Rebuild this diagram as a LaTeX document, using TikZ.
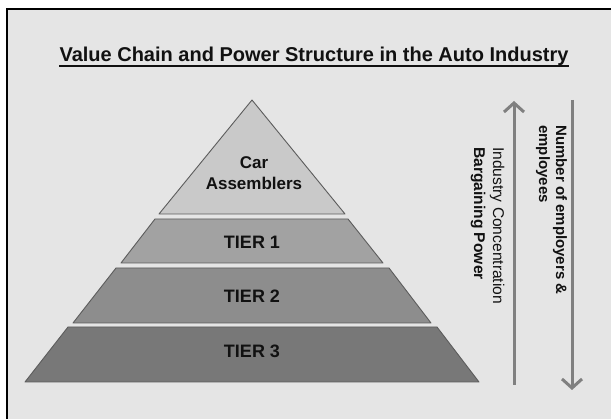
\documentclass[tikz,border=0pt]{standalone}
\usepackage{fontspec}
\setmainfont{Liberation Sans}
\usepackage{tikz}
\usetikzlibrary{arrows.meta, positioning}
\definecolor{vpanel}{HTML}{E5E5E5}
\definecolor{vink}{HTML}{111111}
\definecolor{vedge}{HTML}{5C5C5C}
\definecolor{vtop}{HTML}{C9C9C9}
\definecolor{vone}{HTML}{A2A2A2}
\definecolor{vtwo}{HTML}{8D8D8D}
\definecolor{vthree}{HTML}{787878}
\definecolor{varrow}{HTML}{808080}
\tikzset{
  tier/.style={draw=vedge, line width=0.9pt, line join=round},
  tiertext/.style={inner sep=0pt, align=center, text=vink,
                   font=\fontsize{18}{21}\selectfont\bfseries},
  sidetext/.style={rotate=-90, anchor=west, inner sep=0pt, align=left, text=vink,
                   font=\fontsize{15.6}{19}\selectfont},
  bigarrow/.style={draw=varrow, line width=3pt, -{Straight Barb[length=9pt, width=20pt]}}
}

\begin{document}
\begin{tikzpicture}[x=1pt, y=-1pt]
  \clip (0,0) rectangle (611,419);
  \fill[white] (0,0) rectangle (611,419);
  \draw[fill=vpanel, line width=1.5pt] (7,9) rectangle (640,450);

  \node[inner sep=0pt, anchor=base, text=vink, font=\fontsize{20}{24}\selectfont\bfseries]
    (title) at (314,62) {Value Chain and Power Structure in the Auto Industry};
  \draw[vink, line width=1.6pt] ([yshift=-4pt]title.base west) -- ([yshift=-4pt]title.base east);

  % pyramid, top to bottom
  \draw[tier, fill=vtop]   (252,100) -- (345,214) -- (159,214) -- cycle;
  \draw[tier, fill=vone]   (155,219) -- (348,219) -- (383,263) -- (121,263) -- cycle;
  \draw[tier, fill=vtwo]   (116,268) -- (389,268) -- (431,323) -- (73,323) -- cycle;
  \draw[tier, fill=vthree] (68,327) -- (437,327) -- (479,382) -- (25,382) -- cycle;

  \node[tiertext, font=\fontsize{17}{21}\selectfont\bfseries] (car) at (254,173) {Car\\Assemblers};
  \node[tiertext] (tier1) at (252,242) {TIER 1};
  \node[tiertext] (tier2) at (252,296) {TIER 2};
  \node[tiertext] (tier3) at (252,351) {TIER 3};

  % side arrows
  \coordinate (upfoot) at (514,385);
  \coordinate (uphead) at (514,101);
  \coordinate (downfoot) at (572,100);
  \coordinate (downhead) at (572,390);
  \draw[bigarrow] (upfoot) -- (uphead);
  \draw[bigarrow] (downfoot) -- (downhead);

  \node[sidetext] (power) at (487.5,147) {Industry Concentration\\\textbf{Bargaining Power}};
  \node[sidetext, font=\fontsize{15}{17}\selectfont\bfseries] (staff) at (551.5,125)
    {Number of employers \&\\employees};
\end{tikzpicture}
\end{document}
